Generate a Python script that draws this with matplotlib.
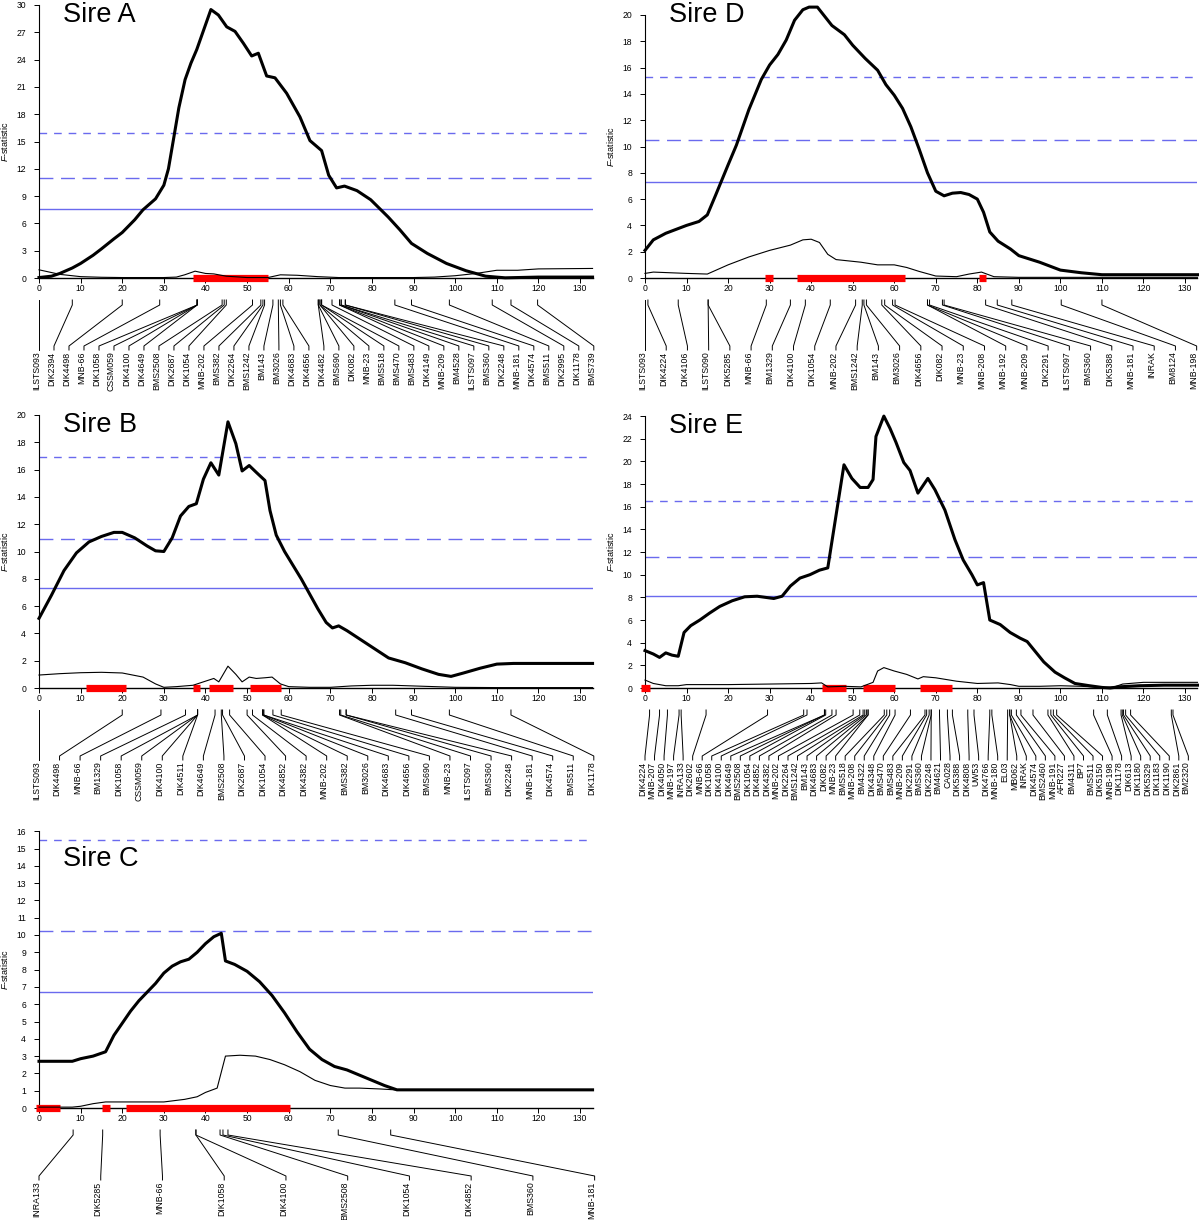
import matplotlib
matplotlib.use('Agg')
import matplotlib.pyplot as plt
import matplotlib.transforms as mtrans
import numpy as np

plt.rcParams['font.family'] = ['Liberation Sans', 'DejaVu Sans']
plt.rcParams['mathtext.fontset'] = 'custom'
plt.rcParams['mathtext.it'] = 'Liberation Sans:italic'
plt.rcParams['mathtext.rm'] = 'Liberation Sans'

W, H = 1200, 1220
XMAX = 133.0
BLUE = '#6a6aee'

# ---------------- Sire A ----------------
A_fx = [0, 3, 5, 8, 10, 13, 15, 18, 20, 23, 25, 28, 30, 31.1, 32.3, 33.6, 35.1, 36.5, 37.9, 39.6, 41.3, 43.1, 45.1,
        47.1, 49.1, 51.1, 52.7, 54.7, 56.7, 59.5, 62.7, 65.1, 67.9, 69.6, 71.5, 73.4, 76.4, 79.7, 83.9, 86.7,
        89.5, 93.3, 97.9, 102.6, 107.3, 112, 120, 133]
A_fy = [0.05, 0.2, 0.5, 1.1, 1.6, 2.5, 3.2, 4.3, 5.0, 6.4, 7.5, 8.7, 10.2, 12.0, 15.2, 18.7, 21.8, 23.6, 25.1, 27.3,
        29.5, 28.9, 27.6, 27.1, 25.8, 24.4, 24.7, 22.2, 22.0, 20.3, 17.7, 15.1, 14.0, 11.3, 9.9, 10.1, 9.6, 8.6,
        6.7, 5.3, 3.8, 2.7, 1.6, 0.8, 0.2, 0.02, 0.1, 0.1]
A_tx = [0, 5, 10, 15, 20, 30, 33, 35, 37.5, 40, 42, 45, 50, 55, 58, 62, 67, 72, 90, 95, 100, 105, 110, 115, 120, 133]
A_ty = [0.9, 0.4, 0.15, 0.08, 0.05, 0.05, 0.1, 0.35, 0.75, 0.5, 0.45, 0.2, 0.05, 0.05, 0.35, 0.3, 0.15, 0.05,
        0.05, 0.1, 0.25, 0.5, 0.85, 0.85, 1.0, 1.05]
A_thr = [7.6, 11.0, 15.9]
A_ci = [(37, 55)]
A_markers = ['ILSTS093', 'DIK2394', 'DIK4498', 'MNB-66', 'DIK1058', 'CSSM059', 'DIK4100', 'DIK4649', 'BMS2508',
             'DIK2687', 'DIK1054', 'MNB-202', 'BMS382', 'DIK2264', 'BMS1242', 'BM143', 'BM3026', 'DIK4683',
             'DIK4656', 'DIK4482', 'BMS690', 'DIK082', 'MNB-23', 'BMS518', 'BMS470', 'BMS483', 'DIK4149',
             'MNB-209', 'BM4528', 'ILSTS097', 'BMS360', 'DIK2248', 'MNB-181', 'DIK4574', 'BMS511', 'DIK2995',
             'DIK1178', 'BMS739']
A_pos = [0, 8, 20, 29, 38, 38, 38, 38, 44, 44.5, 45, 51.3, 53.3, 53.8, 54.2, 56.2, 57.5, 58, 58.6,
         67.1, 67.1, 67.5, 67.5, 67.9, 67.9, 70.4, 72.2, 72.2, 72.6, 72.6, 73.6, 73.6,
         85.5, 89.5, 98.6, 108.9, 113.4, 119.8]

# ---------------- Sire D ----------------
D_fx = [0, 2, 5, 10, 13, 15, 17, 20, 22, 25, 28, 30, 32, 34, 36, 38, 39.5, 41.5, 43, 45, 48, 50, 53, 56, 58, 60,
        62, 64, 66, 68, 70, 72, 74, 76, 78, 80, 81.5, 83, 85, 88, 90, 95, 100, 105, 110, 115, 133]
D_fy = [2.1, 2.9, 3.4, 4.0, 4.3, 4.8, 6.3, 8.6, 10.1, 12.8, 15.1, 16.2, 17.0, 18.1, 19.6, 20.4, 20.6, 20.6, 20.0,
        19.2, 18.5, 17.7, 16.7, 15.8, 14.7, 13.9, 12.9, 11.5, 9.8, 8.0, 6.6, 6.25, 6.45, 6.5, 6.35, 6.0, 5.0,
        3.5, 2.8, 2.2, 1.7, 1.2, 0.6, 0.4, 0.25, 0.25, 0.25]
D_tx = [0, 2, 6, 10, 15, 20, 25, 30, 35, 38, 40, 42, 44, 46, 52, 56, 60, 63, 66, 70, 75, 78, 81, 84, 90, 133]
D_ty = [0.35, 0.45, 0.4, 0.35, 0.3, 1.0, 1.6, 2.1, 2.5, 2.9, 2.95, 2.7, 1.8, 1.4, 1.2, 1.0, 1.0, 0.8, 0.5, 0.15,
        0.1, 0.3, 0.45, 0.1, 0.05, 0.05]
D_thr = [7.3, 10.5, 15.25]
D_ci = [(28.8, 30.8), (36.6, 62.5), (80.3, 82.1)]
D_markers = ['ILSTS093', 'DIK4224', 'DIK4106', 'ILSTS090', 'DIK5285', 'MNB-66', 'BM1329', 'DIK4100', 'DIK1054',
             'MNB-202', 'BMS1242', 'BM143', 'BM3026', 'DIK4656', 'DIK082', 'MNB-23', 'MNB-208', 'MNB-192',
             'MNB-209', 'DIK2291', 'ILSTS097', 'BMS360', 'DIK5388', 'MNB-181', 'INRAK', 'BM8124', 'MNB-198']
D_pos = [0, 0.7, 8, 15.2, 15.2, 29.2, 35, 38.6, 44.6, 50.7, 52.3, 52.7, 53.3, 57, 57.7, 59.6, 60.2, 68, 68,
         68.5, 71.6, 72, 82, 84.8, 88.3, 100.2, 110]

# ---------------- Sire B ----------------
B_fx = [0, 3, 6, 9, 12, 15, 18, 20, 23, 26, 28, 30, 32, 34, 36, 37.8, 39.5, 41.3, 43.2, 45.4, 47.3, 48.8, 50.5,
        52.2, 54.3, 55.5, 57, 59, 61, 63, 65, 67, 69, 70.5, 72, 74, 76, 80, 84, 88, 92, 96, 99, 102, 106, 110,
        114, 133]
B_fy = [5.1, 6.8, 8.6, 9.9, 10.7, 11.1, 11.4, 11.4, 11.0, 10.4, 10.05, 10.0, 11.0, 12.6, 13.3, 13.5, 15.3, 16.5,
        15.6, 19.5, 17.9, 15.9, 16.3, 15.8, 15.2, 13.0, 11.2, 10.0, 9.0, 8.0, 6.9, 5.8, 4.8, 4.4, 4.55, 4.2, 3.8,
        3.0, 2.2, 1.85, 1.4, 1.0, 0.85, 1.1, 1.45, 1.75, 1.8, 1.8]
B_tx = [0, 5, 10, 15, 20, 25, 28, 30, 33, 37, 40, 42, 43.2, 45.4, 47.3, 48.8, 50.5, 52.2, 54.3, 56, 58, 60, 65,
        70, 75, 80, 85, 90, 95, 100, 110, 133]
B_ty = [0.95, 1.05, 1.12, 1.15, 1.1, 0.8, 0.3, 0.05, 0.1, 0.2, 0.5, 0.7, 0.45, 1.6, 1.0, 0.45, 0.8, 0.7, 0.75,
        0.8, 0.3, 0.1, 0.05, 0.05, 0.15, 0.2, 0.2, 0.15, 0.1, 0.05, 0.03, 0.03]
B_thr = [7.3, 10.9, 16.9]
B_ci = [(11.2, 20.8), (36.9, 38.6), (40.8, 46.5), (50.7, 58.2)]
B_markers = ['ILSTS093', 'DIK4498', 'MNB-66', 'BM1329', 'DIK1058', 'CSSM059', 'DIK4100', 'DIK4511', 'DIK4649',
             'BMS2508', 'DIK2687', 'DIK1054', 'DIK4852', 'DIK4382', 'MNB-202', 'BMS382', 'BM3026', 'DIK4683',
             'DIK4656', 'BMS690', 'MNB-23', 'ILSTS097', 'BMS360', 'DIK2248', 'MNB-181', 'DIK4574', 'BMS511',
             'DIK1178']
B_pos = [0, 20, 29.3, 35.2, 38.1, 38.1, 38.1, 38.1, 42.3, 43.8, 44.1, 45.8, 50, 51.3, 53.7, 53.7, 54, 54, 56.2,
         58.2, 72.2, 72.5, 73.8, 73.8, 85.7, 89.5, 98.6, 113.4]

# ---------------- Sire E ----------------
E_fx = [0, 2, 3.5, 5, 6.5, 8, 9.4, 11, 13.2, 15.5, 18, 21, 24, 27, 29, 31, 33, 35, 37.3, 39.7, 42, 44, 47.9,
        49.8, 51.8, 53.7, 54.9, 55.6, 57.5, 59, 60.4, 62.3, 63.8, 65.7, 68.1, 69.8, 72.2, 74.6, 76.6, 78.7, 80,
        81.5, 83, 85.5, 87.9, 90.3, 92, 94, 96, 98.7, 101, 103.5, 107, 110, 112, 114, 119, 125, 133]
E_fy = [3.3, 3.0, 2.7, 3.1, 2.9, 2.8, 4.9, 5.5, 6.0, 6.6, 7.2, 7.7, 8.05, 8.1, 8.0, 7.9, 8.1, 9.0, 9.7, 10.0,
        10.4, 10.6, 19.7, 18.5, 17.7, 17.7, 18.4, 22.2, 24.0, 22.9, 21.7, 19.9, 19.2, 17.2, 18.5, 17.5, 15.7,
        13.1, 11.3, 10.0, 9.1, 9.3, 6.0, 5.6, 4.9, 4.4, 4.1, 3.2, 2.3, 1.4, 0.9, 0.4, 0.2, 0.05, 0.0, 0.1, 0.2,
        0.25, 0.25]
E_tx = [0, 2, 5, 8, 10, 20, 30, 40, 42.5, 44, 48, 52, 54.9, 56, 57.5, 60, 63, 65.7, 67, 70, 75, 80, 85, 88, 90,
        95, 100, 105, 110, 113, 115, 120, 125, 133]
E_ty = [0.7, 0.4, 0.2, 0.2, 0.3, 0.3, 0.35, 0.4, 0.45, 0.1, 0.15, 0.1, 0.5, 1.5, 1.8, 1.5, 1.2, 0.8, 1.0, 0.9,
        0.6, 0.4, 0.45, 0.3, 0.15, 0.15, 0.2, 0.15, 0.05, 0.1, 0.35, 0.5, 0.5, 0.5]
E_thr = [8.1, 11.6, 16.5]
E_ci = [(-0.9, 1.1), (42.6, 48.5), (52.4, 60.3), (66.2, 74)]
E_markers = ['DIK4224', 'MNB-207', 'DIK4050', 'MNB-197', 'INRA133', 'DIK2602', 'MNB-66', 'DIK1058', 'DIK4100',
             'DIK4649', 'BMS2508', 'DIK1054', 'DIK4852', 'DIK4382', 'MNB-202', 'DIK2264', 'BMS1242', 'BM143',
             'DIK4683', 'DIK082', 'MNB-23', 'BMS518', 'MNB-208', 'BM4322', 'DIK4348', 'BMS470', 'BMS483',
             'MNB-209', 'DIK2291', 'BMS360', 'DIK2248', 'BM4621', 'CA028', 'DIK5388', 'DIK4808', 'UW53',
             'DIK4766', 'MNB-180', 'EL03', 'MB062', 'INRAK', 'DIK4574', 'BMS2460', 'MNB-191', 'AFR227',
             'BM4311', 'BP7', 'BMS511', 'DIK5150', 'MNB-198', 'DIK1178', 'DIK613', 'DIK1180', 'DIK5329',
             'DIK1183', 'DIK1190', 'DIK2861', 'BM2320']
E_pos = [1.1, 3.5, 5.4, 8.2, 8.7, 14.7, 29.5, 38.2, 39, 43.2, 43.2, 43.5, 45, 46, 50.1, 51.7, 52.5, 52.9, 53.3,
         53.7, 53.7, 57.6, 58.2, 58.9, 60.2, 63.9, 67.4, 67.8, 68.4, 68.9, 68.9, 70.9, 72.8, 74, 77.7, 79.2,
         83, 83.5, 87.3, 87.8, 87.8, 88.2, 89.4, 90.5, 93.4, 97, 97.7, 98.3, 99.1, 108, 111.3, 114.6, 114.9,
         115.2, 115.7, 116.9, 126.7, 127.1]

# ---------------- Sire C ----------------
C_fx = [0, 5, 8, 10, 13, 16, 18, 20, 22, 24, 26, 28, 30, 32, 34, 36, 38, 40, 42, 43.8, 44.8, 47, 50, 53, 56, 59,
        62, 65, 68, 71, 74, 77, 80, 83, 86, 133]
C_fy = [2.7, 2.7, 2.7, 2.85, 3.0, 3.25, 4.2, 4.9, 5.6, 6.2, 6.7, 7.2, 7.8, 8.2, 8.45, 8.6, 9.0, 9.5, 9.9, 10.1,
        8.5, 8.3, 7.9, 7.3, 6.5, 5.5, 4.4, 3.4, 2.8, 2.4, 2.2, 1.9, 1.6, 1.3, 1.05, 1.05]
C_tx = [0, 8, 10, 13, 16, 20, 25, 30, 35, 38, 40, 42.8, 44.8, 48.3, 52, 55.5, 59, 62.7, 66.3, 70, 73.5, 77, 82,
        85.5, 133]
C_ty = [0.05, 0.05, 0.1, 0.25, 0.35, 0.35, 0.35, 0.35, 0.5, 0.65, 0.9, 1.15, 3.0, 3.05, 3.0, 2.8, 2.5, 2.1, 1.6,
        1.3, 1.15, 1.15, 1.1, 1.05, 1.05]
C_thr = [6.7, 10.25, 15.5]
C_ci = [(-0.7, 5.1), (15.1, 17.0), (20.9, 60.3)]
C_markers = ['INRA133', 'DIK5285', 'MNB-66', 'DIK1058', 'DIK4100', 'BMS2508', 'DIK1054', 'DIK4852', 'BMS360',
             'MNB-181']
C_pos = [8.2, 15.3, 29.1, 37.7, 37.7, 43.5, 44.2, 45.4, 71.9, 84.5]

fig = plt.figure(figsize=(W / 100, H / 100), dpi=100)


def panel(title, x0, y0, xs, ys, top_px, ymaxtick, ystep, title_base, lab_end,
          fx, fy, tx, ty, thr, ci, names, pos):
    ax = fig.add_axes([x0 / W, 1 - y0 / H, xs * XMAX / W, (y0 - top_px) / H])
    ax.set_xlim(0, XMAX)
    ax.set_ylim(0, (y0 - top_px) / ys)
    for s in ['top', 'right']:
        ax.spines[s].set_visible(False)
    ax.spines['left'].set_bounds(0, ymaxtick)
    ax.spines['left'].set_linewidth(0.8)
    ax.spines['bottom'].set_linewidth(1.0)
    yt = np.arange(0, ymaxtick + 0.01, ystep)
    ax.set_yticks(yt)
    ax.set_yticklabels([f'{v:g}' for v in yt])
    ax.set_xticks(np.arange(0, 131, 10))
    ax.tick_params(axis='y', direction='out', length=3.8, width=0.7, labelsize=6.2, pad=5.5)
    ax.tick_params(axis='x', direction='out', length=3.5, width=0.7, labelsize=6.2, pad=1)

    ls_long = (0, (10, 5.5))
    ls_short = (0, (5.5, 5))
    ax.axhline(thr[0], color=BLUE, lw=1.0, zorder=1)
    ax.axhline(thr[1], color=BLUE, lw=1.0, ls=ls_long, zorder=1)
    ax.axhline(thr[2], color=BLUE, lw=1.0, ls=ls_short, zorder=1)

    for a, b in ci:
        ax.plot([a, b], [0, 0], color='#ff0000', lw=5.2, solid_capstyle='butt', clip_on=False, zorder=2.7)

    ax.plot(tx, ty, color='black', lw=0.8, zorder=3, clip_on=False)
    ax.plot(fx, fy, color='black', lw=2.2, zorder=4, clip_on=False)

    # y label
    ymid = y0 - ys * ymaxtick / 2
    fig.text((x0 - 34) / W, 1 - ymid / H, r'$F$-statistic', rotation=90, ha='center', va='center', fontsize=6.5)
    # title
    fig.text((x0 + 24) / W, 1 - title_base / H, title, fontsize=19.5, ha='left', va='baseline')

    # marker map
    tr = mtrans.blended_transform_factory(ax.transData, fig.transFigure)
    n = len(names)
    lx = np.linspace(0, lab_end, n)
    f = lambda d: 1 - (y0 + d) / H
    for nm, p, L in zip(names, pos, lx):
        ax.plot([p, p, L, L], [f(22), f(27), f(68), f(72)], color='black', lw=0.7,
                transform=tr, clip_on=False, zorder=1)
        ax.text(L, f(73.5), nm, transform=tr, rotation=90, rotation_mode='anchor',
                ha='right', va='baseline', fontsize=6.3)
    return ax


panel('Sire A', 39, 278, 4.162, 9.1, 2, 30, 3, 22, 133.3,
      A_fx, A_fy, A_tx, A_ty, A_thr, A_ci, A_markers, A_pos)
panel('Sire D', 645, 278, 4.154, 13.15, 2, 20, 2, 22, 132.8,
      D_fx, D_fy, D_tx, D_ty, D_thr, D_ci, D_markers, D_pos)
panel('Sire B', 39, 688, 4.162, 13.65, 410, 20, 2, 432, 133.3,
      B_fx, B_fy, B_tx, B_ty, B_thr, B_ci, B_markers, B_pos)
panel('Sire E', 645, 688, 4.154, 11.33, 410, 24, 2, 433, 130.8,
      E_fx, E_fy, E_tx, E_ty, E_thr, E_ci, E_markers, E_pos)
panel('Sire C', 39, 1108, 4.162, 17.3, 826, 16, 1, 866, 133.5,
      C_fx, C_fy, C_tx, C_ty, C_thr, C_ci, C_markers, C_pos)

fig.savefig('out.png', dpi=100)
